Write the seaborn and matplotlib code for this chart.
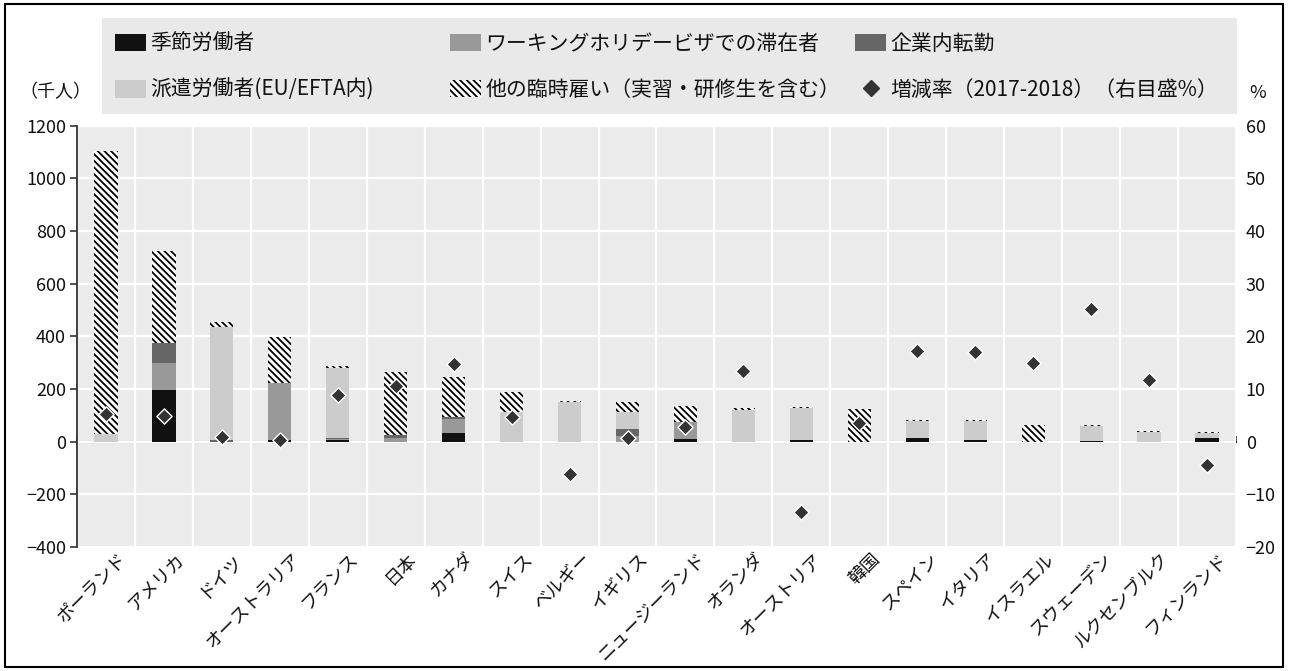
import numpy as np
import pandas as pd
import matplotlib
matplotlib.use("Agg")
import matplotlib.pyplot as plt
from matplotlib.patches import Patch, Rectangle
from matplotlib.lines import Line2D
import seaborn as sns

# ---------------- data ----------------
countries = ['ポーランド', 'アメリカ', 'ドイツ', 'オーストラリア', 'フランス', '日本', 'カナダ',
             'スイス', 'ベルギー', 'イギリス', 'ニュージーランド', 'オランダ', 'オーストリア', '韓国',
             'スペイン', 'イタリア', 'イスラエル', 'スウェーデン', 'ルクセンブルク', 'フィンランド']
seasonal = [0, 197, 0, 5, 5, 0, 33, 0, 0, 0, 10, 0, 6, 0, 15, 6, 0, 3, 0, 13]
working_holiday = [0, 103, 0, 217, 6, 15, 53, 0, 0, 20, 65, 0, 0, 0, 0, 0, 0, 0, 0, 0]
intra_company = [0, 76, 5, 0, 4, 10, 8, 0, 0, 30, 0, 0, 0, 0, 0, 0, 0, 0, 0, 0]
posted = [28, 0, 432, 0, 264, 0, 0, 113, 152, 62, 0, 122, 121, 0, 65, 74, 0, 58, 36, 20]
other_temp = [1075, 349, 19, 175, 9, 239, 151, 75, 3, 38, 61, 4, 3, 124, 3, 3, 64, 3, 3, 3]
growth = [5.2, 4.8, 0.9, 0.4, 8.8, 10.6, 14.8, 4.6, -6.2, 0.7, 2.7, 13.4, -13.4, 3.6,
          17.3, 17.0, 15.0, 25.2, 11.7, -4.4]

left_ticks = [-400, -200, 0, 200, 400, 600, 800, 1000, 1200]
right_ticks = [-20, -10, 0, 10, 20, 30, 40, 50, 60]

labels = ['季節労働者', 'ワーキングホリデービザでの滞在者', '企業内転勤',
          '派遣労働者(EU/EFTA内)', '他の臨時雇い（実習・研修生を含む）',
          '増減率（2017-2018）（右目盛%）']

# ---------------- style ----------------
sns.set_theme(style="white")
plt.rcParams['font.family'] = ['Noto Sans CJK JP', 'DejaVu Sans']
plt.rcParams['hatch.linewidth'] = 1.3
plt.rcParams['axes.unicode_minus'] = True

C_SEASON = '#111111'
C_WHM = '#999999'
C_ICT = '#666666'
C_POSTED = '#cccccc'
C_BG = '#ebebeb'
HATCH = '\\' * 5

df = pd.DataFrame({
    'country': countries,
    'seasonal': seasonal,
    'whm': working_holiday,
    'ict': intra_company,
    'posted': posted,
    'other': other_temp,
    'growth': growth,
})
df['c1'] = df['seasonal']
df['c2'] = df['c1'] + df['whm']
df['c3'] = df['c2'] + df['ict']
df['c4'] = df['c3'] + df['posted']
df['c5'] = df['c4'] + df['other']

fig = plt.figure(figsize=(12.9, 6.71), dpi=100)
ax = fig.add_axes([77 / 1290, 1 - 547 / 671, (1236 - 77) / 1290, (547 - 125.7) / 671])
ax.set_facecolor(C_BG)

W = 0.4
# stacked via overlapping cumulative bars (top layer first)
sns.barplot(data=df, x='country', y='c5', color='white', width=W, saturation=1,
            edgecolor='black', linewidth=0, hatch=HATCH, ax=ax, zorder=3)
sns.barplot(data=df, x='country', y='c4', color=C_POSTED, width=W, saturation=1,
            linewidth=0, ax=ax, zorder=3)
sns.barplot(data=df, x='country', y='c3', color=C_ICT, width=W, saturation=1,
            linewidth=0, ax=ax, zorder=3)
sns.barplot(data=df, x='country', y='c2', color=C_WHM, width=W, saturation=1,
            linewidth=0, ax=ax, zorder=3)
sns.barplot(data=df, x='country', y='c1', color=C_SEASON, width=W, saturation=1,
            linewidth=0, ax=ax, zorder=3)

n = len(countries)
ax.set_xlim(-0.5, n - 0.5)
ax.set_ylim(left_ticks[0], left_ticks[-1])
ax.set_yticks(left_ticks)
ax.set_xlabel('')
ax.set_ylabel('')

# grid
ax.set_axisbelow(True)
ax.yaxis.grid(True, color='white', linewidth=1.6)
ax.set_xticks(np.arange(n + 1) - 0.5, minor=True)
ax.xaxis.grid(True, which='minor', color='white', linewidth=1.6)
ax.xaxis.grid(False, which='major')
ax.tick_params(axis='x', which='both', length=0)

for s in ['top', 'right', 'bottom']:
    ax.spines[s].set_visible(False)
ax.spines['left'].set_color('#333333')
ax.spines['left'].set_linewidth(1.3)
ax.tick_params(axis='y', which='major', left=True, length=5, width=1.2, color='#333333',
               labelsize=13, pad=3, labelcolor='#111111')

# x tick labels rotated (anchored slightly right of each category centre)
ax.set_xticks(np.arange(n) + 0.2)
ax.set_xticklabels(countries, rotation=45, ha='right', va='top', rotation_mode='anchor',
                   fontsize=13, color='#111111')
ax.tick_params(axis='x', pad=2)

# zero line with category boundary ticks
sec = ax.secondary_xaxis((0 - left_ticks[0]) / (left_ticks[-1] - left_ticks[0]))
sec.set_xticks(np.arange(n + 1) - 0.5)
sec.tick_params(axis='x', direction='in', length=4, width=1.2, color='#333333',
                labelbottom=False, labeltop=False)
for s in sec.spines.values():
    s.set_color('#333333')
    s.set_linewidth(1.5)

# right axis: growth rate
ax2 = ax.twinx()
ax2.set_ylim(right_ticks[0], right_ticks[-1])
sns.scatterplot(x=np.arange(n), y=df['growth'], marker='D', s=60, color='#333333',
                edgecolor='white', linewidth=1.0, ax=ax2, zorder=5, legend=False)
ax2.set_yticks(right_ticks)
ax2.set_ylabel('')
for s in ax2.spines.values():
    s.set_visible(False)
ax2.tick_params(axis='y', length=0, labelsize=13, pad=7, labelcolor='#111111')
ax2.grid(False)

# unit labels
fig.text(55 / 1290, 1 - 92 / 671, '（千人）', ha='center', va='center', fontsize=13, color='#111111')
fig.text(1258 / 1290, 1 - 93 / 671, '%', ha='center', va='center', fontsize=13, color='#111111')

# legend background
fig.add_artist(Rectangle((102 / 1290, 1 - 114 / 671), (1237 - 102) / 1290, 96 / 671,
                         transform=fig.transFigure, facecolor='#e9e9e9', edgecolor='none',
                         zorder=0))

h_season = Patch(facecolor=C_SEASON, edgecolor='none')
h_whm = Patch(facecolor=C_WHM, edgecolor='none')
h_ict = Patch(facecolor=C_ICT, edgecolor='none')
h_posted = Patch(facecolor=C_POSTED, edgecolor='none')
h_other = Patch(facecolor='white', edgecolor='black', hatch=HATCH, linewidth=0)
h_growth = Line2D([], [], marker='D', color='#333333', linestyle='none', markersize=8)

cols = [
    ([h_season, h_posted], [labels[0], labels[3]], 115),
    ([h_whm, h_other], [labels[1], labels[4]], 450),
    ([h_ict, h_growth], [labels[2], labels[5]], 855),
]
for handles, labs, x0 in cols:
    leg = fig.legend(handles, labs, loc='upper left',
                     bbox_to_anchor=(x0 / 1290, 1 - 33 / 671), frameon=False,
                     fontsize=15, handlelength=1.5, handleheight=0.9, handletextpad=0.2,
                     labelspacing=1.15, borderpad=0, borderaxespad=0)
    for t in leg.get_texts():
        t.set_color('#111111')

# outer border
fig.add_artist(Rectangle((5 / 1290, 4 / 671), (1283 - 5) / 1290, (667 - 4) / 671,
                         transform=fig.transFigure, fill=False, edgecolor='black',
                         linewidth=1.5, zorder=10))

fig.savefig('out.png', dpi=100)
